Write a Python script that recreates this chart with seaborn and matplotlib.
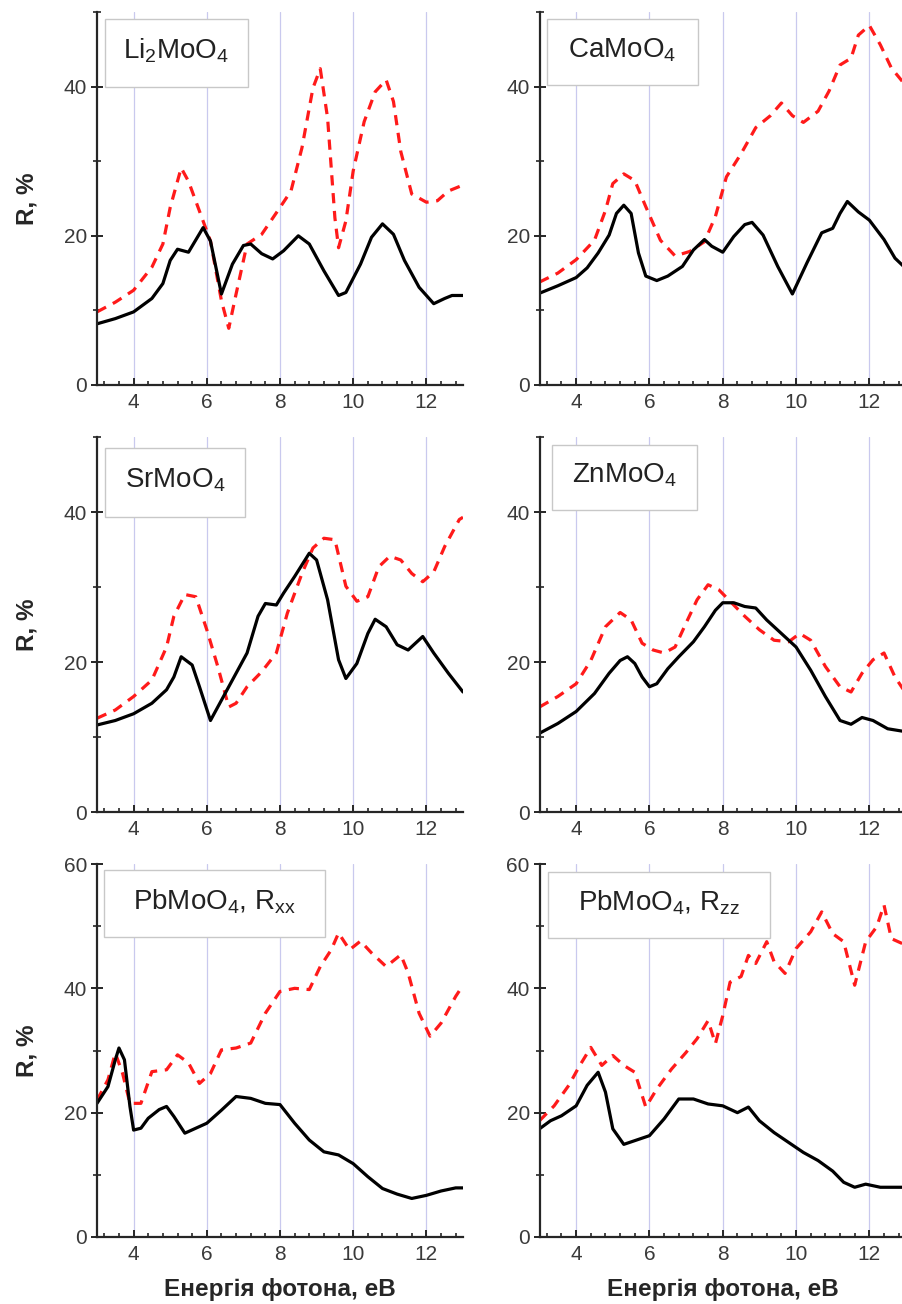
import numpy as np
import pandas as pd
import matplotlib
matplotlib.use("Agg")
import matplotlib.pyplot as plt
from matplotlib.ticker import MultipleLocator, FixedLocator
from matplotlib.patches import Rectangle
import seaborn as sns

# ---------------- data ----------------
li_xb = [3, 3.5, 4, 4.5, 4.8, 5.0, 5.2, 5.5, 5.9, 6.1, 6.4, 6.7, 7.0, 7.2, 7.5, 7.8, 8.1, 8.5, 8.8, 9.2, 9.6, 9.8, 10.2, 10.5, 10.8, 11.1, 11.4, 11.8, 12.2, 12.5, 12.7, 13]
li_yb = [8.2, 8.9, 9.8, 11.6, 13.6, 16.7, 18.2, 17.8, 21.1, 19.3, 12.2, 16.2, 18.7, 18.9, 17.6, 16.9, 18.0, 20.0, 18.9, 15.3, 12.0, 12.4, 16.2, 19.8, 21.6, 20.2, 16.7, 13.1, 10.9, 11.6, 12.0, 12.0]
li_xr = [3, 3.5, 4, 4.5, 4.8, 5.0, 5.3, 5.5, 5.8, 6.1, 6.4, 6.6, 6.8, 7.1, 7.5, 8.0, 8.3, 8.6, 8.9, 9.1, 9.3, 9.5, 9.6, 9.8, 10.0, 10.3, 10.6, 10.9, 11.1, 11.3, 11.6, 12.0, 12.3, 12.6, 13]
li_yr = [9.8, 11.1, 12.7, 15.8, 18.9, 23.8, 29.1, 27.3, 23.3, 19.3, 11.3, 7.6, 12.2, 18.9, 20.2, 23.8, 26.0, 31.8, 39.8, 42.4, 35.8, 22.4, 18.4, 22.0, 28.7, 35.3, 39.3, 40.9, 38.0, 31.3, 25.6, 24.5, 24.7, 26.0, 26.8]

ca_xb = [3, 3.5, 4, 4.3, 4.6, 4.9, 5.1, 5.3, 5.5, 5.7, 5.9, 6.2, 6.5, 6.9, 7.2, 7.5, 7.7, 8.0, 8.3, 8.6, 8.8, 9.1, 9.5, 9.9, 10.3, 10.7, 11.0, 11.2, 11.4, 11.7, 12.0, 12.4, 12.7, 13]
ca_yb = [12.3, 13.3, 14.4, 15.7, 17.7, 20.1, 23.0, 24.1, 23.0, 17.7, 14.6, 14.0, 14.6, 15.9, 18.1, 19.5, 18.6, 17.8, 19.9, 21.5, 21.8, 20.1, 15.9, 12.2, 16.4, 20.4, 21.0, 23.0, 24.6, 23.2, 22.1, 19.5, 17.0, 15.6]
ca_xr = [3, 3.5, 4, 4.5, 4.8, 5.0, 5.3, 5.6, 5.9, 6.3, 6.7, 7.1, 7.5, 7.8, 8.1, 8.5, 8.9, 9.3, 9.6, 9.9, 10.2, 10.6, 10.9, 11.2, 11.5, 11.7, 12.0, 12.3, 12.6, 12.9, 13]
ca_yr = [13.8, 15.0, 16.8, 19.4, 23.4, 27.0, 28.3, 27.4, 23.9, 19.4, 17.3, 17.9, 19.2, 22.6, 27.9, 31.0, 34.5, 36.1, 37.8, 36.1, 35.2, 36.7, 39.4, 42.9, 43.8, 46.9, 48.2, 45.6, 42.5, 40.7, 40.6]

sr_xb = [3, 3.5, 4, 4.5, 4.9, 5.1, 5.3, 5.6, 5.8, 6.1, 6.4, 6.8, 7.1, 7.4, 7.6, 7.9, 8.1, 8.4, 8.8, 9.0, 9.3, 9.6, 9.8, 10.1, 10.4, 10.6, 10.9, 11.2, 11.5, 11.9, 12.2, 12.6, 13]
sr_yb = [11.6, 12.2, 13.1, 14.5, 16.3, 18.0, 20.7, 19.6, 16.7, 12.2, 14.9, 18.5, 21.2, 26.1, 27.8, 27.6, 29.2, 31.4, 34.5, 33.6, 28.3, 20.3, 17.8, 19.8, 23.8, 25.7, 24.7, 22.3, 21.6, 23.4, 21.2, 18.5, 16.0]
sr_xr = [3, 3.5, 4, 4.5, 4.9, 5.1, 5.4, 5.7, 6.0, 6.3, 6.6, 6.8, 7.1, 7.5, 7.9, 8.2, 8.6, 8.9, 9.2, 9.5, 9.8, 10.1, 10.4, 10.7, 11.0, 11.3, 11.6, 11.9, 12.2, 12.5, 12.9, 13]
sr_yr = [12.5, 13.6, 15.4, 17.6, 22.0, 26.1, 29.0, 28.7, 24.3, 19.4, 14.0, 14.5, 16.7, 18.7, 21.2, 26.5, 31.8, 35.2, 36.5, 36.3, 30.1, 28.1, 28.7, 32.7, 34.1, 33.6, 31.8, 30.7, 32.0, 35.4, 39.0, 39.3]

zn_xb = [3, 3.5, 4, 4.5, 4.9, 5.2, 5.4, 5.6, 5.8, 6.0, 6.2, 6.5, 6.8, 7.2, 7.5, 7.8, 8.0, 8.3, 8.6, 8.9, 9.2, 9.6, 10.0, 10.4, 10.8, 11.2, 11.5, 11.8, 12.1, 12.5, 13]
zn_yb = [10.5, 11.8, 13.4, 15.8, 18.5, 20.2, 20.7, 19.8, 18.0, 16.7, 17.1, 19.1, 20.7, 22.7, 24.7, 26.9, 27.9, 27.9, 27.4, 27.2, 25.6, 23.8, 22.0, 18.9, 15.4, 12.2, 11.7, 12.6, 12.2, 11.1, 10.7]
zn_xr = [3, 3.5, 4, 4.4, 4.8, 5.2, 5.5, 5.8, 6.1, 6.4, 6.7, 7.0, 7.3, 7.6, 7.9, 8.2, 8.6, 9.0, 9.4, 9.8, 10.1, 10.4, 10.8, 11.2, 11.5, 11.8, 12.1, 12.4, 12.7, 13]
zn_yr = [14.0, 15.4, 17.1, 20.2, 24.7, 26.6, 25.6, 22.5, 21.6, 21.2, 22.0, 25.2, 28.3, 30.3, 29.6, 28.1, 26.1, 24.3, 22.9, 22.7, 23.8, 22.9, 19.4, 16.7, 16.0, 18.5, 20.3, 21.2, 18.0, 15.8]

pbx_xb = [3, 3.3, 3.5, 3.6, 3.75, 3.9, 4.0, 4.2, 4.4, 4.7, 4.9, 5.1, 5.4, 5.7, 6.0, 6.4, 6.8, 7.2, 7.6, 8.0, 8.4, 8.8, 9.2, 9.6, 10.0, 10.4, 10.8, 11.2, 11.6, 12.0, 12.4, 12.8, 13]
pbx_yb = [21.5, 24.2, 28.5, 30.4, 28.5, 21.0, 17.2, 17.5, 19.1, 20.5, 21.0, 19.4, 16.7, 17.5, 18.3, 20.4, 22.6, 22.3, 21.5, 21.3, 18.3, 15.6, 13.7, 13.2, 11.8, 9.7, 7.8, 6.9, 6.2, 6.7, 7.4, 7.9, 7.9]
pbx_xr = [3, 3.3, 3.5, 3.7, 3.9, 4.2, 4.5, 4.9, 5.2, 5.5, 5.8, 6.1, 6.4, 6.8, 7.2, 7.6, 8.0, 8.4, 8.8, 9.1, 9.4, 9.6, 9.9, 10.2, 10.5, 10.9, 11.3, 11.5, 11.8, 12.1, 12.4, 12.8, 13]
pbx_yr = [22.0, 25.3, 29.6, 26.3, 21.5, 21.5, 26.6, 26.9, 29.3, 28.0, 24.7, 26.3, 30.1, 30.4, 31.2, 36.0, 39.5, 40.0, 39.8, 43.5, 46.2, 48.9, 46.2, 47.6, 45.7, 43.5, 45.4, 42.5, 36.0, 32.3, 34.4, 38.7, 40.5]

pbz_xb = [3, 3.3, 3.6, 4.0, 4.3, 4.6, 4.8, 5.0, 5.3, 5.6, 6.0, 6.4, 6.8, 7.2, 7.6, 8.0, 8.4, 8.7, 9.0, 9.4, 9.8, 10.2, 10.6, 11.0, 11.3, 11.6, 11.9, 12.3, 12.7, 13]
pbz_yb = [17.4, 18.7, 19.5, 21.1, 24.4, 26.5, 23.3, 17.4, 14.9, 15.5, 16.3, 19.0, 22.2, 22.2, 21.4, 21.1, 20.0, 20.9, 18.7, 16.8, 15.2, 13.6, 12.3, 10.6, 8.8, 8.0, 8.5, 8.0, 8.0, 8.0]
pbz_xr = [3, 3.4, 3.8, 4.1, 4.4, 4.7, 5.0, 5.3, 5.6, 5.9, 6.2, 6.6, 7.0, 7.3, 7.6, 7.8, 8.0, 8.2, 8.5, 8.7, 8.9, 9.2, 9.4, 9.7, 10.0, 10.4, 10.7, 11.0, 11.3, 11.6, 11.9, 12.2, 12.4, 12.6, 12.9, 13]
pbz_yr = [18.7, 21.1, 24.4, 27.6, 30.5, 27.6, 29.2, 27.6, 26.5, 20.9, 23.8, 27.0, 29.7, 31.9, 34.8, 31.1, 35.6, 41.0, 41.9, 45.3, 44.0, 47.5, 44.3, 42.4, 46.4, 49.1, 52.3, 48.8, 47.5, 40.5, 47.5, 49.9, 53.4, 48.0, 47.2, 47.2]

labels = ["Li$_2$MoO$_4$", "CaMoO$_4$", "SrMoO$_4$", "ZnMoO$_4$",
          "PbMoO$_4$, R$_{xx}$", "PbMoO$_4$, R$_{zz}$"]
x_ticks = [4, 6, 8, 10, 12]
x_label = "Енергія фотона, еВ"
y_label = "R, %"

series = [
    (li_xb, li_yb, li_xr, li_yr),
    (ca_xb, ca_yb, ca_xr, ca_yr),
    (sr_xb, sr_yb, sr_xr, sr_yr),
    (zn_xb, zn_yb, zn_xr, zn_yr),
    (pbx_xb, pbx_yb, pbx_xr, pbx_yr),
    (pbz_xb, pbz_yb, pbz_xr, pbz_yr),
]
ymax = [50, 50, 50, 50, 60, 60]

# ---------------- style ----------------
sns.set_style("ticks")
plt.rcParams["font.family"] = ["Liberation Sans", "DejaVu Sans"]
plt.rcParams["mathtext.fontset"] = "custom"
plt.rcParams["mathtext.rm"] = "Liberation Sans"
plt.rcParams["mathtext.it"] = "Liberation Sans:italic"
plt.rcParams["mathtext.default"] = "regular"

W, H = 902, 1304
fig = plt.figure(figsize=(W / 100, H / 100), dpi=100)

col_left = [97, 539.5]
col_right = [463, 906]
row_bottom = [385, 812, 1237]
row_top = [12, 437, 864]
box_px = [  # x0, x1, y0, y1 in pixel coords
    (105, 248, 19, 87), (547, 698, 19, 85),
    (105, 245, 448, 517), (552, 697, 445, 510),
    (104, 325, 870, 937), (548, 770, 872, 938),
]

for i, (xb, yb, xr, yr) in enumerate(series):
    r, c = divmod(i, 2)
    x0, x1 = col_left[c], col_right[c]
    yb0, yt = row_bottom[r], row_top[r]
    ax = fig.add_axes([x0 / W, (H - yb0) / H, (x1 - x0) / W, (yb0 - yt) / H])
    ax.set_xlim(3, 13)
    ax.set_ylim(0, ymax[i])
    for xv in x_ticks:
        ax.axvline(xv, color="#c9c9ee", lw=0.9, zorder=0)
    sns.lineplot(x=xr, y=yr, ax=ax, color="#ff1a1a", lw=2.3, estimator=None, sort=False)
    ax.lines[-1].set_dashes((3.2, 2.4))
    sns.lineplot(x=xb, y=yb, ax=ax, color="black", lw=2.3, estimator=None, sort=False)

    for s in ["top", "right"]:
        ax.spines[s].set_visible(False)
    ax.spines["left"].set_linewidth(1.6)
    ax.spines["bottom"].set_linewidth(1.6)
    ax.xaxis.set_major_locator(FixedLocator(x_ticks))
    ax.xaxis.set_minor_locator(MultipleLocator(0.4))
    ax.yaxis.set_major_locator(MultipleLocator(20))
    ax.yaxis.set_minor_locator(MultipleLocator(10))
    ax.tick_params(axis="x", which="major", direction="in", length=5, width=1.4,
                   labelsize=15, labelcolor="#3a3a3a", pad=6)
    ax.tick_params(axis="x", which="minor", direction="in", length=3, width=1.2)
    ax.tick_params(axis="y", which="major", direction="inout", length=8, width=1.4,
                   labelsize=15, labelcolor="#3a3a3a", pad=3)
    ax.tick_params(axis="y", which="minor", direction="inout", length=6, width=1.2)
    ax.set_xlabel("")
    ax.set_ylabel("")
    if c == 0:
        ax.set_ylabel(y_label, fontsize=17.5, fontweight="bold", labelpad=18)
    if r == 2:
        ax.set_xlabel(x_label, fontsize=17.5, fontweight="bold", labelpad=10)

    bx0, bx1, by0, by1 = box_px[i]
    ax_w = x1 - x0
    ax_h = yb0 - yt
    rx0 = (bx0 - x0) / ax_w
    rx1 = (bx1 - x0) / ax_w
    ry0 = (yb0 - by1) / ax_h
    ry1 = (yb0 - by0) / ax_h
    ax.add_patch(Rectangle((rx0, ry0), rx1 - rx0, ry1 - ry0, transform=ax.transAxes,
                           facecolor="white", edgecolor="#c8c8c8", lw=1.0, zorder=5))
    ax.text((rx0 + rx1) / 2, (ry0 + ry1) / 2 + 0.005, labels[i], transform=ax.transAxes,
            ha="center", va="center", fontsize=20, color="#222222", zorder=6)

fig.savefig("out.png", dpi=100)
